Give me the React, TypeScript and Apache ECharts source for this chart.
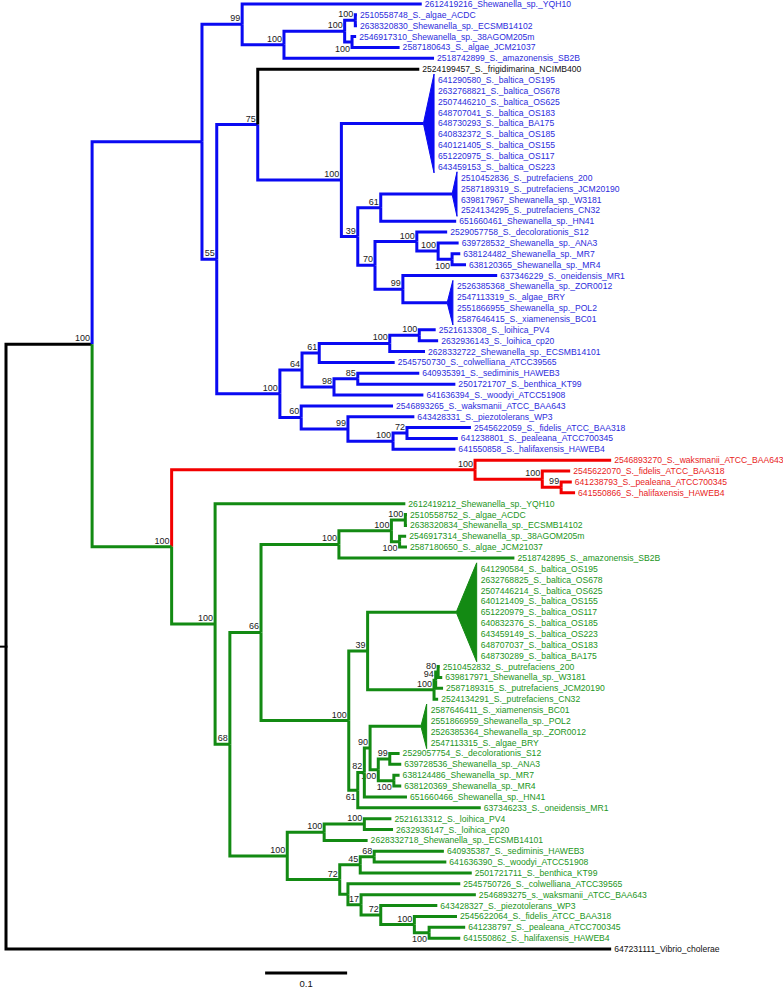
import React, { useEffect, useRef } from "react";
import * as echarts from "echarts";

type NodeRow = [string, string | null, number, number | null];
type CladeRow = [string, string, number, number];
type LeafRow = [string, string, number];

// Internal nodes: [id, parent, depth from root (subst./site), bootstrap]
const backboneNodes: NodeRow[] = [
  ["ROOT", null, 0, null],
  ["IN", "ROOT", 0.105, 100],
];
const blueNodes: NodeRow[] = [
  ["B", "IN", 0.239, null],
  ["B99", "B", 0.288, 99],
  ["BA100", "B99", 0.339, 100],
  ["BA", "BA100", 0.413, 100],
  ["BA1", "BA", 0.426, 100],
  ["BA2", "BA", 0.422, 100],
  ["B55", "B", 0.257, 55],
  ["B75", "B55", 0.307, 75],
  ["BPS", "B75", 0.409, 100],
  ["B39", "BPS", 0.429, 39],
  ["B61", "B39", 0.457, 61],
  ["B70", "B39", 0.45, 70],
  ["BD", "B70", 0.501, 100],
  ["BE", "BD", 0.527, 100],
  ["BF", "BE", 0.544, 100],
  ["B99b", "B70", 0.484, 99],
  ["B100L", "B55", 0.334, 100],
  ["B64", "B100L", 0.361, 64],
  ["B61b", "B64", 0.382, 61],
  ["BL100", "B61b", 0.468, 100],
  ["BLP", "BL100", 0.504, 100],
  ["B98", "B64", 0.4, 98],
  ["B85", "B98", 0.429, 85],
  ["B60", "B100L", 0.36, 60],
  ["B99c", "B60", 0.417, 99],
  ["B100F", "B99c", 0.472, 100],
  ["B72", "B100F", 0.489, 72],
];
const redNodes: NodeRow[] = [
  ["R", "GR", 0.572, 100],
  ["R100", "R", 0.654, 100],
  ["R99", "R100", 0.677, 99],
];
const greenNodes: NodeRow[] = [
  ["GR", "IN", 0.202, 100],
  ["G", "GR", 0.255, 100],
  ["G68", "G", 0.273, 68],
  ["G66", "G68", 0.311, 66],
  ["G100a", "G66", 0.406, 100],
  ["GA", "G100a", 0.47, 100],
  ["GA1", "GA", 0.487, 100],
  ["GA2", "GA", 0.48, 100],
  ["G100B", "G66", 0.418, 100],
  ["G39", "G100B", 0.441, 39],
  ["GP100", "G39", 0.522, 100],
  ["GP94", "GP100", 0.524, 94],
  ["GP80", "GP94", 0.527, 80],
  ["G61", "G100B", 0.429, 61],
  ["G82", "G61", 0.437, 82],
  ["G90", "G82", 0.444, 90],
  ["GD", "G90", 0.454, 100],
  ["GD99", "GD", 0.468, 99],
  ["GDM", "GD", 0.473, 100],
  ["G100C", "G68", 0.343, 100],
  ["GL100", "G100C", 0.388, 100],
  ["GLP", "GL100", 0.437, 100],
  ["G72", "G100C", 0.407, 72],
  ["G45", "G72", 0.432, 45],
  ["G68b", "G45", 0.449, 68],
  ["GC", "G72", 0.417, null],
  ["G17", "GC", 0.433, 17],
  ["G72b", "G17", 0.457, 72],
  ["G100D", "G72b", 0.498, 100],
  ["G100E", "G100D", 0.516, 100],
];
const belowLabels = ["BA2", "BF", "GA2", "GD", "GDM", "G100E", "G61"];

// Collapsed clades: [id, parent, apex depth, tip depth]
const blueCollapsed: CladeRow[] = [
  ["Bbal", "BPS", 0.509, 0.522],
  ["Bput", "B61", 0.544, 0.55],
  ["Bxia", "B99b", 0.538, 0.545],
];
const greenCollapsed: CladeRow[] = [
  ["Gbal", "G39", 0.549, 0.574],
  ["Gxia", "G90", 0.506, 0.513],
];

// Tips in row order: [name, parent, depth]
const blueLeaves: LeafRow[] = [
  ["2612419216_Shewanella_sp._YQH10", "B99", 0.507],
  ["2510558748_S._algae_ACDC", "BA1", 0.428],
  ["2638320830_Shewanella_sp._ECSMB14102", "BA1", 0.428],
  ["2546917310_Shewanella_sp._38AGOM205m", "BA2", 0.427],
  ["2587180643_S._algae_JCM21037", "BA2", 0.48],
  ["2518742899_S._amazonensis_SB2B", "BA100", 0.522],
  ["2524199457_S._frigidimarina_NCIMB400", "B75", 0.504],
  ["641290580_S._baltica_OS195", "Bbal", 0.522],
  ["2632768821_S._baltica_OS678", "Bbal", 0.522],
  ["2507446210_S._baltica_OS625", "Bbal", 0.522],
  ["648707041_S._baltica_OS183", "Bbal", 0.522],
  ["648730293_S._baltica_BA175", "Bbal", 0.522],
  ["640832372_S._baltica_OS185", "Bbal", 0.522],
  ["640121405_S._baltica_OS155", "Bbal", 0.522],
  ["651220975_S._baltica_OS117", "Bbal", 0.522],
  ["643459153_S._baltica_OS223", "Bbal", 0.522],
  ["2510452836_S._putrefaciens_200", "Bput", 0.55],
  ["2587189319_S._putrefaciens_JCM20190", "Bput", 0.55],
  ["639817967_Shewanella_sp._W3181", "Bput", 0.55],
  ["2524134295_S._putrefaciens_CN32", "Bput", 0.55],
  ["651660461_Shewanella_sp._HN41", "B61", 0.549],
  ["2529057758_S._decolorationis_S12", "BD", 0.538],
  ["639728532_Shewanella_sp._ANA3", "BE", 0.552],
  ["638124482_Shewanella_sp._MR7", "BF", 0.554],
  ["638120365_Shewanella_sp._MR4", "BF", 0.561],
  ["637346229_S._oneidensis_MR1", "B99b", 0.599],
  ["2526385368_Shewanella_sp._ZOR0012", "Bxia", 0.545],
  ["2547113319_S._algae_BRY", "Bxia", 0.545],
  ["2551866955_Shewanella_sp._POL2", "Bxia", 0.545],
  ["2587646415_S._xiamenensis_BC01", "Bxia", 0.545],
  ["2521613308_S._loihica_PV4", "BLP", 0.524],
  ["2632936143_S._loihica_cp20", "BLP", 0.527],
  ["2628332722_Shewanella_sp._ECSMB14101", "BL100", 0.511],
  ["2545750730_S._colwelliana_ATCC39565", "B61b", 0.474],
  ["640935391_S._sediminis_HAWEB3", "B85", 0.504],
  ["2501721707_S._benthica_KT99", "B85", 0.548],
  ["641636394_S._woodyi_ATCC51908", "B98", 0.509],
  ["2546893265_S._waksmanii_ATCC_BAA643", "B60", 0.472],
  ["643428331_S._piezotolerans_WP3", "B99c", 0.498],
  ["2545622059_S._fidelis_ATCC_BAA318", "B72", 0.567],
  ["641238801_S._pealeana_ATCC700345", "B72", 0.551],
  ["641550858_S._halifaxensis_HAWEB4", "B100F", 0.548],
];
const redLeaves: LeafRow[] = [
  ["2546893270_S._waksmanii_ATCC_BAA643", "R", 0.738],
  ["2545622070_S._fidelis_ATCC_BAA318", "R100", 0.688],
  ["641238793_S._pealeana_ATCC700345", "R99", 0.69],
  ["641550866_S._halifaxensis_HAWEB4", "R99", 0.694],
];
const greenLeaves: LeafRow[] = [
  ["2612419212_Shewanella_sp._YQH10", "G", 0.487],
  ["2510558752_S._algae_ACDC", "GA1", 0.489],
  ["2638320834_Shewanella_sp._ECSMB14102", "GA1", 0.489],
  ["2546917314_Shewanella_sp._38AGOM205m", "GA2", 0.488],
  ["2587180650_S._algae_JCM21037", "GA2", 0.489],
  ["2518742895_S._amazonensis_SB2B", "G100a", 0.62],
  ["641290584_S._baltica_OS195", "Gbal", 0.574],
  ["2632768825_S._baltica_OS678", "Gbal", 0.574],
  ["2507446214_S._baltica_OS625", "Gbal", 0.574],
  ["640121409_S._baltica_OS155", "Gbal", 0.574],
  ["651220979_S._baltica_OS117", "Gbal", 0.574],
  ["640832376_S._baltica_OS185", "Gbal", 0.574],
  ["643459149_S._baltica_OS223", "Gbal", 0.574],
  ["648707037_S._baltica_OS183", "Gbal", 0.574],
  ["648730289_S._baltica_BA175", "Gbal", 0.574],
  ["2510452832_S._putrefaciens_200", "GP80", 0.529],
  ["639817971_Shewanella_sp._W3181", "GP80", 0.532],
  ["2587189315_S._putrefaciens_JCM20190", "GP94", 0.533],
  ["2524134291_S._putrefaciens_CN32", "GP100", 0.527],
  ["2587646411_S._xiamenensis_BC01", "Gxia", 0.513],
  ["2551866959_Shewanella_sp._POL2", "Gxia", 0.513],
  ["2526385364_Shewanella_sp._ZOR0012", "Gxia", 0.513],
  ["2547113315_S._algae_BRY", "Gxia", 0.513],
  ["2529057754_S._decolorationis_S12", "GD99", 0.48],
  ["639728536_Shewanella_sp._ANA3", "GD99", 0.482],
  ["638124486_Shewanella_sp._MR7", "GDM", 0.48],
  ["638120369_Shewanella_sp._MR4", "GDM", 0.482],
  ["651660466_Shewanella_sp._HN41", "G82", 0.489],
  ["637346233_S._oneidensis_MR1", "G61", 0.579],
  ["2521613312_S._loihica_PV4", "GLP", 0.47],
  ["2632936147_S._loihica_cp20", "GLP", 0.472],
  ["2628332718_Shewanella_sp._ECSMB14101", "GL100", 0.441],
  ["640935387_S._sediminis_HAWEB3", "G68b", 0.534],
  ["641636390_S._woodyi_ATCC51908", "G68b", 0.537],
  ["2501721711_S._benthica_KT99", "G45", 0.568],
  ["2545750726_S._colwelliana_ATCC39565", "GC", 0.554],
  ["2546893275_s._waksmanii_ATCC_BAA643", "G17", 0.573],
  ["643428327_S._piezotolerans_WP3", "G72b", 0.526],
  ["2545622064_S._fidelis_ATCC_BAA318", "G100D", 0.55],
  ["641238797_S._pealeana_ATCC700345", "G100E", 0.56],
  ["641550862_S._halifaxensis_HAWEB4", "G100E", 0.554],
];
const outgroupLeaves: LeafRow[] = [["647231111_Vibrio_cholerae", "ROOT", 0.738]];
const blackTips = ["2524199457_S._frigidimarina_NCIMB400", "647231111_Vibrio_cholerae"];

const scaleBarStart = 0.316;
const scaleBarLength = 0.1;
const scaleBarLabel = "0.1";

const COL = {
  black: { line: "#000000", text: "#111111" },
  blue: { line: "#0a0af2", text: "#2c2cdc" },
  red: { line: "#f20000", text: "#e81c1c" },
  green: { line: "#138a13", text: "#229522" },
};
const FONT = "'Liberation Sans', Arial, Helvetica, sans-serif";
const TIP_FONT = 8.6;
const SUPPORT_FONT = 9;

function buildTree() {
  const nodes = new Map<string, any>();
  const addNodes = (list: NodeRow[], c: any) =>
    list.forEach(([id, parent, depth, support]) =>
      nodes.set(id, { id, parent, depth, support, c, kind: "node", kids: [] as any[] })
    );
  addNodes(backboneNodes, COL.black);
  addNodes(blueNodes, COL.blue);
  addNodes(redNodes, COL.red);
  addNodes(greenNodes, COL.green);
  const addClades = (list: CladeRow[], c: any) =>
    list.forEach(([id, parent, depth, tip]) =>
      nodes.set(id, { id, parent, depth, tip, c, kind: "clade", support: null, kids: [] as any[] })
    );
  addClades(blueCollapsed, COL.blue);
  addClades(greenCollapsed, COL.green);
  const tips: [LeafRow, any][] = [
    ...blueLeaves.map((l) => [l, COL.blue] as [LeafRow, any]),
    ...redLeaves.map((l) => [l, COL.red] as [LeafRow, any]),
    ...greenLeaves.map((l) => [l, COL.green] as [LeafRow, any]),
    ...outgroupLeaves.map((l) => [l, COL.black] as [LeafRow, any]),
  ];
  tips.forEach(([[name, parent, depth], c], row) => {
    nodes.set(name, {
      id: name,
      parent,
      depth,
      c: blackTips.includes(name) ? COL.black : c,
      kind: "leaf",
      y: row,
      support: null,
      kids: [],
    });
  });
  nodes.forEach((n) => {
    if (n.parent) nodes.get(n.parent).kids.push(n);
  });
  const setY = (n: any): number => {
    if (n.kind === "leaf") return n.y;
    const ys = n.kids.map(setY);
    n.first = Math.min(...ys);
    n.last = Math.max(...ys);
    n.y = (n.first + n.last) / 2;
    return n.y;
  };
  setY(nodes.get("ROOT"));
  return { nodes, rows: tips.length };
}

export default function App() {
  const ref = useRef<HTMLDivElement>(null);
  useEffect(() => {
    if (!ref.current) return;
    const chart = echarts.init(ref.current, undefined, { renderer: "svg" });
    const { nodes } = buildTree();
    const items: any[] = [];
    nodes.forEach((n) => {
      if (!n.parent) return;
      const p = nodes.get(n.parent);
      if (p.kind === "clade") return;
      items.push({ kind: "branch", n });
    });
    items.push({ kind: "stub" });
    items.push({ kind: "scale" });
    const LW = 3;
    const tipStyle = (text: string, fill: string) => ({
      text,
      fill,
      fontSize: TIP_FONT,
      fontFamily: FONT,
      align: "left",
      verticalAlign: "middle",
      textAlign: "left",
      textVerticalAlign: "middle",
    });
    const option: any = {
      animation: false,
      grid: { left: 6, top: 4, width: 738, height: 945 },
      xAxis: { type: "value", min: 0, max: 0.9, show: false },
      yAxis: { type: "value", min: 0, max: 87, inverse: true, show: false },
      series: [
        {
          type: "custom",
          clip: false,
          data: items.map((_, i) => [0, i]),
          renderItem: (params: any, api: any) => {
            const it = items[params.dataIndex];
            const ch: any[] = [];
            if (it.kind === "stub") {
              const r = nodes.get("ROOT");
              const a = api.coord([-0.008, r.y]);
              const b = api.coord([0, r.y]);
              ch.push({ type: "line", shape: { x1: a[0], y1: a[1], x2: b[0] + 1.5, y2: b[1] }, style: { stroke: "#000", lineWidth: 2 } });
            } else if (it.kind === "scale") {
              const a = api.coord([scaleBarStart, 89.2]);
              const b = api.coord([scaleBarStart + scaleBarLength, 89.2]);
              const t = api.coord([scaleBarStart + scaleBarLength / 2, 90.2]);
              ch.push({ type: "line", shape: { x1: a[0], y1: a[1], x2: b[0], y2: b[1] }, style: { stroke: "#000", lineWidth: 3 } });
              ch.push({
                type: "text",
                x: t[0],
                y: t[1],
                style: { text: scaleBarLabel, fill: "#111", fontSize: 9.5, fontFamily: FONT, align: "center", verticalAlign: "middle", textAlign: "center", textVerticalAlign: "middle" },
              });
            } else {
              const n = it.n;
              const p = nodes.get(n.parent);
              const a = api.coord([p.depth, p.y]);
              const b = api.coord([p.depth, n.y]);
              const c = api.coord([n.depth, n.y]);
              ch.push({
                type: "polyline",
                shape: { points: [a, b, c] },
                style: { stroke: n.c.line, lineWidth: LW, fill: null, lineJoin: "miter" },
              });
              if (n.kind === "clade") {
                const t1 = api.coord([n.tip, n.first - 0.55]);
                const t2 = api.coord([n.tip, n.last + 0.55]);
                ch.push({ type: "polygon", shape: { points: [c, t1, t2] }, style: { fill: n.c.line, stroke: n.c.line, lineWidth: 1 } });
                n.kids.forEach((k: any) => {
                  const q = api.coord([n.tip, k.y]);
                  ch.push({ type: "text", x: q[0] + 4, y: q[1], style: tipStyle(k.id, n.c.text) });
                });
              }
              if (n.kind === "leaf") {
                ch.push({ type: "text", x: c[0] + 3, y: c[1], style: tipStyle(n.id, n.c.text) });
              }
              if (n.support != null) {
                const below = belowLabels.includes(n.id);
                ch.push({
                  type: "text",
                  x: c[0] - 2,
                  y: below ? c[1] + 2 : c[1] - 1.5,
                  style: {
                    text: String(n.support),
                    fill: "#1a1a1a",
                    fontSize: SUPPORT_FONT,
                    fontFamily: FONT,
                    align: "right",
                    verticalAlign: below ? "top" : "bottom",
                    textAlign: "right",
                    textVerticalAlign: below ? "top" : "bottom",
                  },
                });
              }
            }
            return { type: "group", children: ch };
          },
        },
      ],
    };
    chart.setOption(option);
    return () => chart.dispose();
  }, []);
  return (
    <div
      ref={ref}
      style={{ position: "absolute", left: 0, top: 0, width: 783, height: 989, background: "#fff" }}
    />
  );
}
